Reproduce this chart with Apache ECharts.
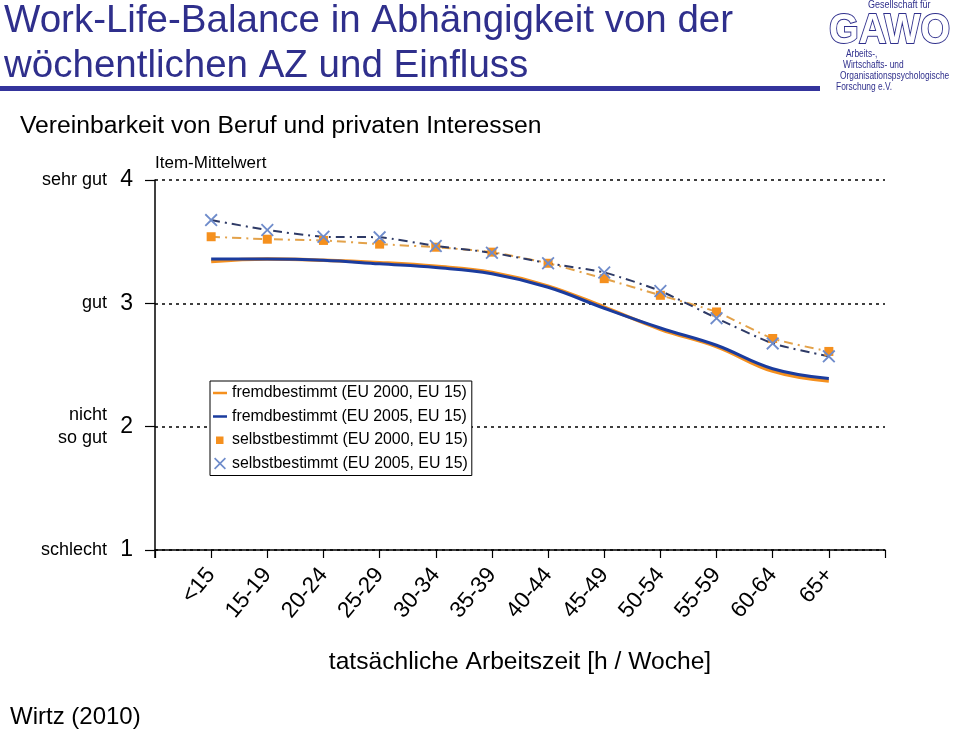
<!DOCTYPE html>
<html>
<head>
<meta charset="utf-8">
<script src="https://cdn.jsdelivr.net/npm/echarts@6/dist/echarts.min.js"></script>
<style>html,body{margin:0;padding:0;background:#fff;}#c{width:959px;height:734px;}</style>
</head>
<body>
<div id="c"></div>
<script>
// ---- data ----
const categories = ['<15','15-19','20-24','25-29','30-34','35-39','40-44','45-49','50-54','55-59','60-64','65+'];
const fremd2000  = [3.34, 3.36, 3.35, 3.33, 3.30, 3.25, 3.14, 2.97, 2.79, 2.65, 2.45, 2.37];
const fremd2005  = [3.36, 3.36, 3.35, 3.32, 3.29, 3.24, 3.13, 2.96, 2.80, 2.66, 2.47, 2.39];
const selbst2000 = [3.54, 3.52, 3.51, 3.48, 3.455, 3.415, 3.325, 3.20, 3.065, 2.93, 2.715, 2.61];
const selbst2005 = [3.675, 3.595, 3.54, 3.535, 3.465, 3.41, 3.325, 3.25, 3.10, 2.88, 2.675, 2.57];
const yTickNumbers = [1, 2, 3, 4];
const yTickWords = {1: 'schlecht', 2: 'nicht\nso gut', 3: 'gut', 4: 'sehr gut'};
const seriesNames = ['fremdbestimmt (EU 2000, EU 15)','fremdbestimmt (EU 2005, EU 15)','selbstbestimmt (EU 2000, EU 15)','selbstbestimmt (EU 2005, EU 15)'];

const FONT = "'Liberation Sans', Arial, sans-serif";
const NAVY = '#2F2F8C';
const ORANGE = '#F5901E';
const BLUE = '#1B3C9E';
const XBLUE = '#6F8CCB';
const toPairs = arr => arr.map((v, i) => [i + 1, v]);
const xPath = 'path://M0,1L1,0L5,4L9,0L10,1L6,5L10,9L9,10L5,6L1,10L0,9L4,5Z';
// legend icons inside a 14x14 box (tiny corner points keep the box size)
const BOX = 'M0,0L0.05,0L0.05,0.05Z M14,14L13.95,14L13.95,13.95Z ';
const iconLine = 'path://' + BOX + 'M0,5.8L14,5.8L14,8.2L0,8.2Z';
const iconSquare = 'path://' + BOX + 'M3,3.5L10.5,3.5L10.5,11L3,11Z';
const iconX = 'path://' + BOX + 'M1,2.2L2.2,1L7,5.8L11.8,1L13,2.2L8.2,7L13,11.8L11.8,13L7,8.2L2.2,13L1,11.8L5.8,7Z';
const legendIcons = [iconLine, iconLine, iconSquare, iconX];

const chart = echarts.init(document.getElementById('c'), null, {renderer: 'canvas'});
chart.setOption({
  animation: false,
  backgroundColor: '#fff',
  textStyle: {fontFamily: FONT},
  title: [
    {text: 'Work-Life-Balance in Abhängigkeit von der\nwöchentlichen AZ und Einfluss', left: 4, top: -1, padding: 0,
     textStyle: {fontFamily: FONT, fontSize: 38.5, lineHeight: 45, fontWeight: 'normal', color: NAVY}},
    {text: 'Vereinbarkeit von Beruf und privaten Interessen', left: 20, top: 114, padding: 0,
     textStyle: {fontFamily: FONT, fontSize: 24.7, fontWeight: 'normal', color: '#000'}},
    {text: 'Wirtz (2010)', left: 10, top: 705, padding: 0,
     textStyle: {fontFamily: FONT, fontSize: 24, fontWeight: 'normal', color: '#000'}}
  ],
  graphic: [
    {type: 'rect', left: 0, top: 86, shape: {width: 820, height: 5}, style: {fill: '#34349C'}},
    {type: 'line', shape: {x1: 155, y1: 550, x2: 155, y2: 558}, style: {stroke: '#000', lineWidth: 1.5}},
    {type: 'text', x: 868, y: 0, scaleX: 0.9, style: {text: 'Gesellschaft für', font: "10px " + FONT, fill: NAVY}},
    {type: 'text', x: 829, y: 10, scaleX: 0.89, style: {text: 'GAWO', font: "bold 43px " + FONT, fill: '#fff', stroke: NAVY, lineWidth: 2}},
    {type: 'text', x: 846, y: 49, scaleX: 0.84, style: {text: 'Arbeits-,', font: "10px " + FONT, fill: NAVY}},
    {type: 'text', x: 843, y: 60, scaleX: 0.84, style: {text: 'Wirtschafts- und', font: "10px " + FONT, fill: NAVY}},
    {type: 'text', x: 840, y: 71, scaleX: 0.84, style: {text: 'Organisationspsychologische', font: "10px " + FONT, fill: NAVY}},
    {type: 'text', x: 836, y: 82, scaleX: 0.84, style: {text: 'Forschung e.V.', font: "10px " + FONT, fill: NAVY}}
  ],
  legend: {
    orient: 'vertical', left: 210, top: 381,
    data: seriesNames.map((n, i) => ({name: n, icon: legendIcons[i]})),
    backgroundColor: '#fff', borderColor: '#000', borderWidth: 1,
    padding: [4, 4, 4, 3], itemGap: 7.5, itemWidth: 14, itemHeight: 14,
    textStyle: {fontFamily: FONT, fontSize: 15.9, color: '#000'}
  },
  grid: {left: 155, right: 74, top: 180, bottom: 184},
  xAxis: {
    type: 'value', min: 0, max: 13, interval: 1,
    name: 'tatsächliche Arbeitszeit [h / Woche]', nameLocation: 'middle', nameGap: 100,
    nameTextStyle: {fontFamily: FONT, fontSize: 24.6, color: '#000'},
    axisLine: {lineStyle: {color: '#000', width: 1.5}},
    axisTick: {length: 8, lineStyle: {color: '#000', width: 1.2}},
    splitLine: {show: false},
    axisLabel: {rotate: 50, margin: 21, fontSize: 22.5, color: '#000', fontFamily: FONT,
      formatter: v => categories[v - 1] || ''}
  },
  yAxis: [
    {
      type: 'value', min: 1, max: 4, interval: 1,
      name: 'Item-Mittelwert', nameLocation: 'end', nameGap: 8,
      nameTextStyle: {align: 'left', fontFamily: FONT, fontSize: 17, color: '#000'},
      axisLine: {show: true, lineStyle: {color: '#000', width: 1.5}},
      axisTick: {show: true, length: 10, lineStyle: {color: '#000', width: 1.2}},
      splitLine: {show: true, lineStyle: {type: [3, 4], color: '#000', width: 1.5}},
      axisLabel: {margin: 22, fontSize: 23, color: '#000', fontFamily: FONT,
        formatter: v => yTickNumbers.includes(v) ? String(v) : ''}
    },
    {
      type: 'value', min: 1, max: 4, interval: 1, position: 'left',
      axisLine: {show: false}, axisTick: {show: false}, splitLine: {show: false},
      axisLabel: {margin: 48, fontSize: 18, color: '#000', fontFamily: FONT, lineHeight: 23,
        formatter: v => yTickWords[v] || ''}
    }
  ],
  series: [
    {name: seriesNames[0], type: 'line', data: toPairs(fremd2000), smooth: 0.4, symbol: 'none',
     lineStyle: {color: ORANGE, width: 3.5}, itemStyle: {color: ORANGE}},
    {name: seriesNames[1], type: 'line', data: toPairs(fremd2005), smooth: 0.4, symbol: 'none',
     lineStyle: {color: BLUE, width: 3}, itemStyle: {color: BLUE}},
    {name: seriesNames[2], type: 'line', data: toPairs(selbst2000), smooth: 0.2, symbol: 'rect', symbolSize: 9,
     lineStyle: {color: '#E3A24A', width: 2, type: [9, 5, 2, 5]}, itemStyle: {color: ORANGE}},
    {name: seriesNames[3], type: 'line', data: toPairs(selbst2005), smooth: 0.2, symbol: xPath, symbolSize: 13,
     lineStyle: {color: '#2E3A66', width: 2, type: [9, 5, 2, 5]}, itemStyle: {color: XBLUE}}
  ]
});
</script>
</body>
</html>
